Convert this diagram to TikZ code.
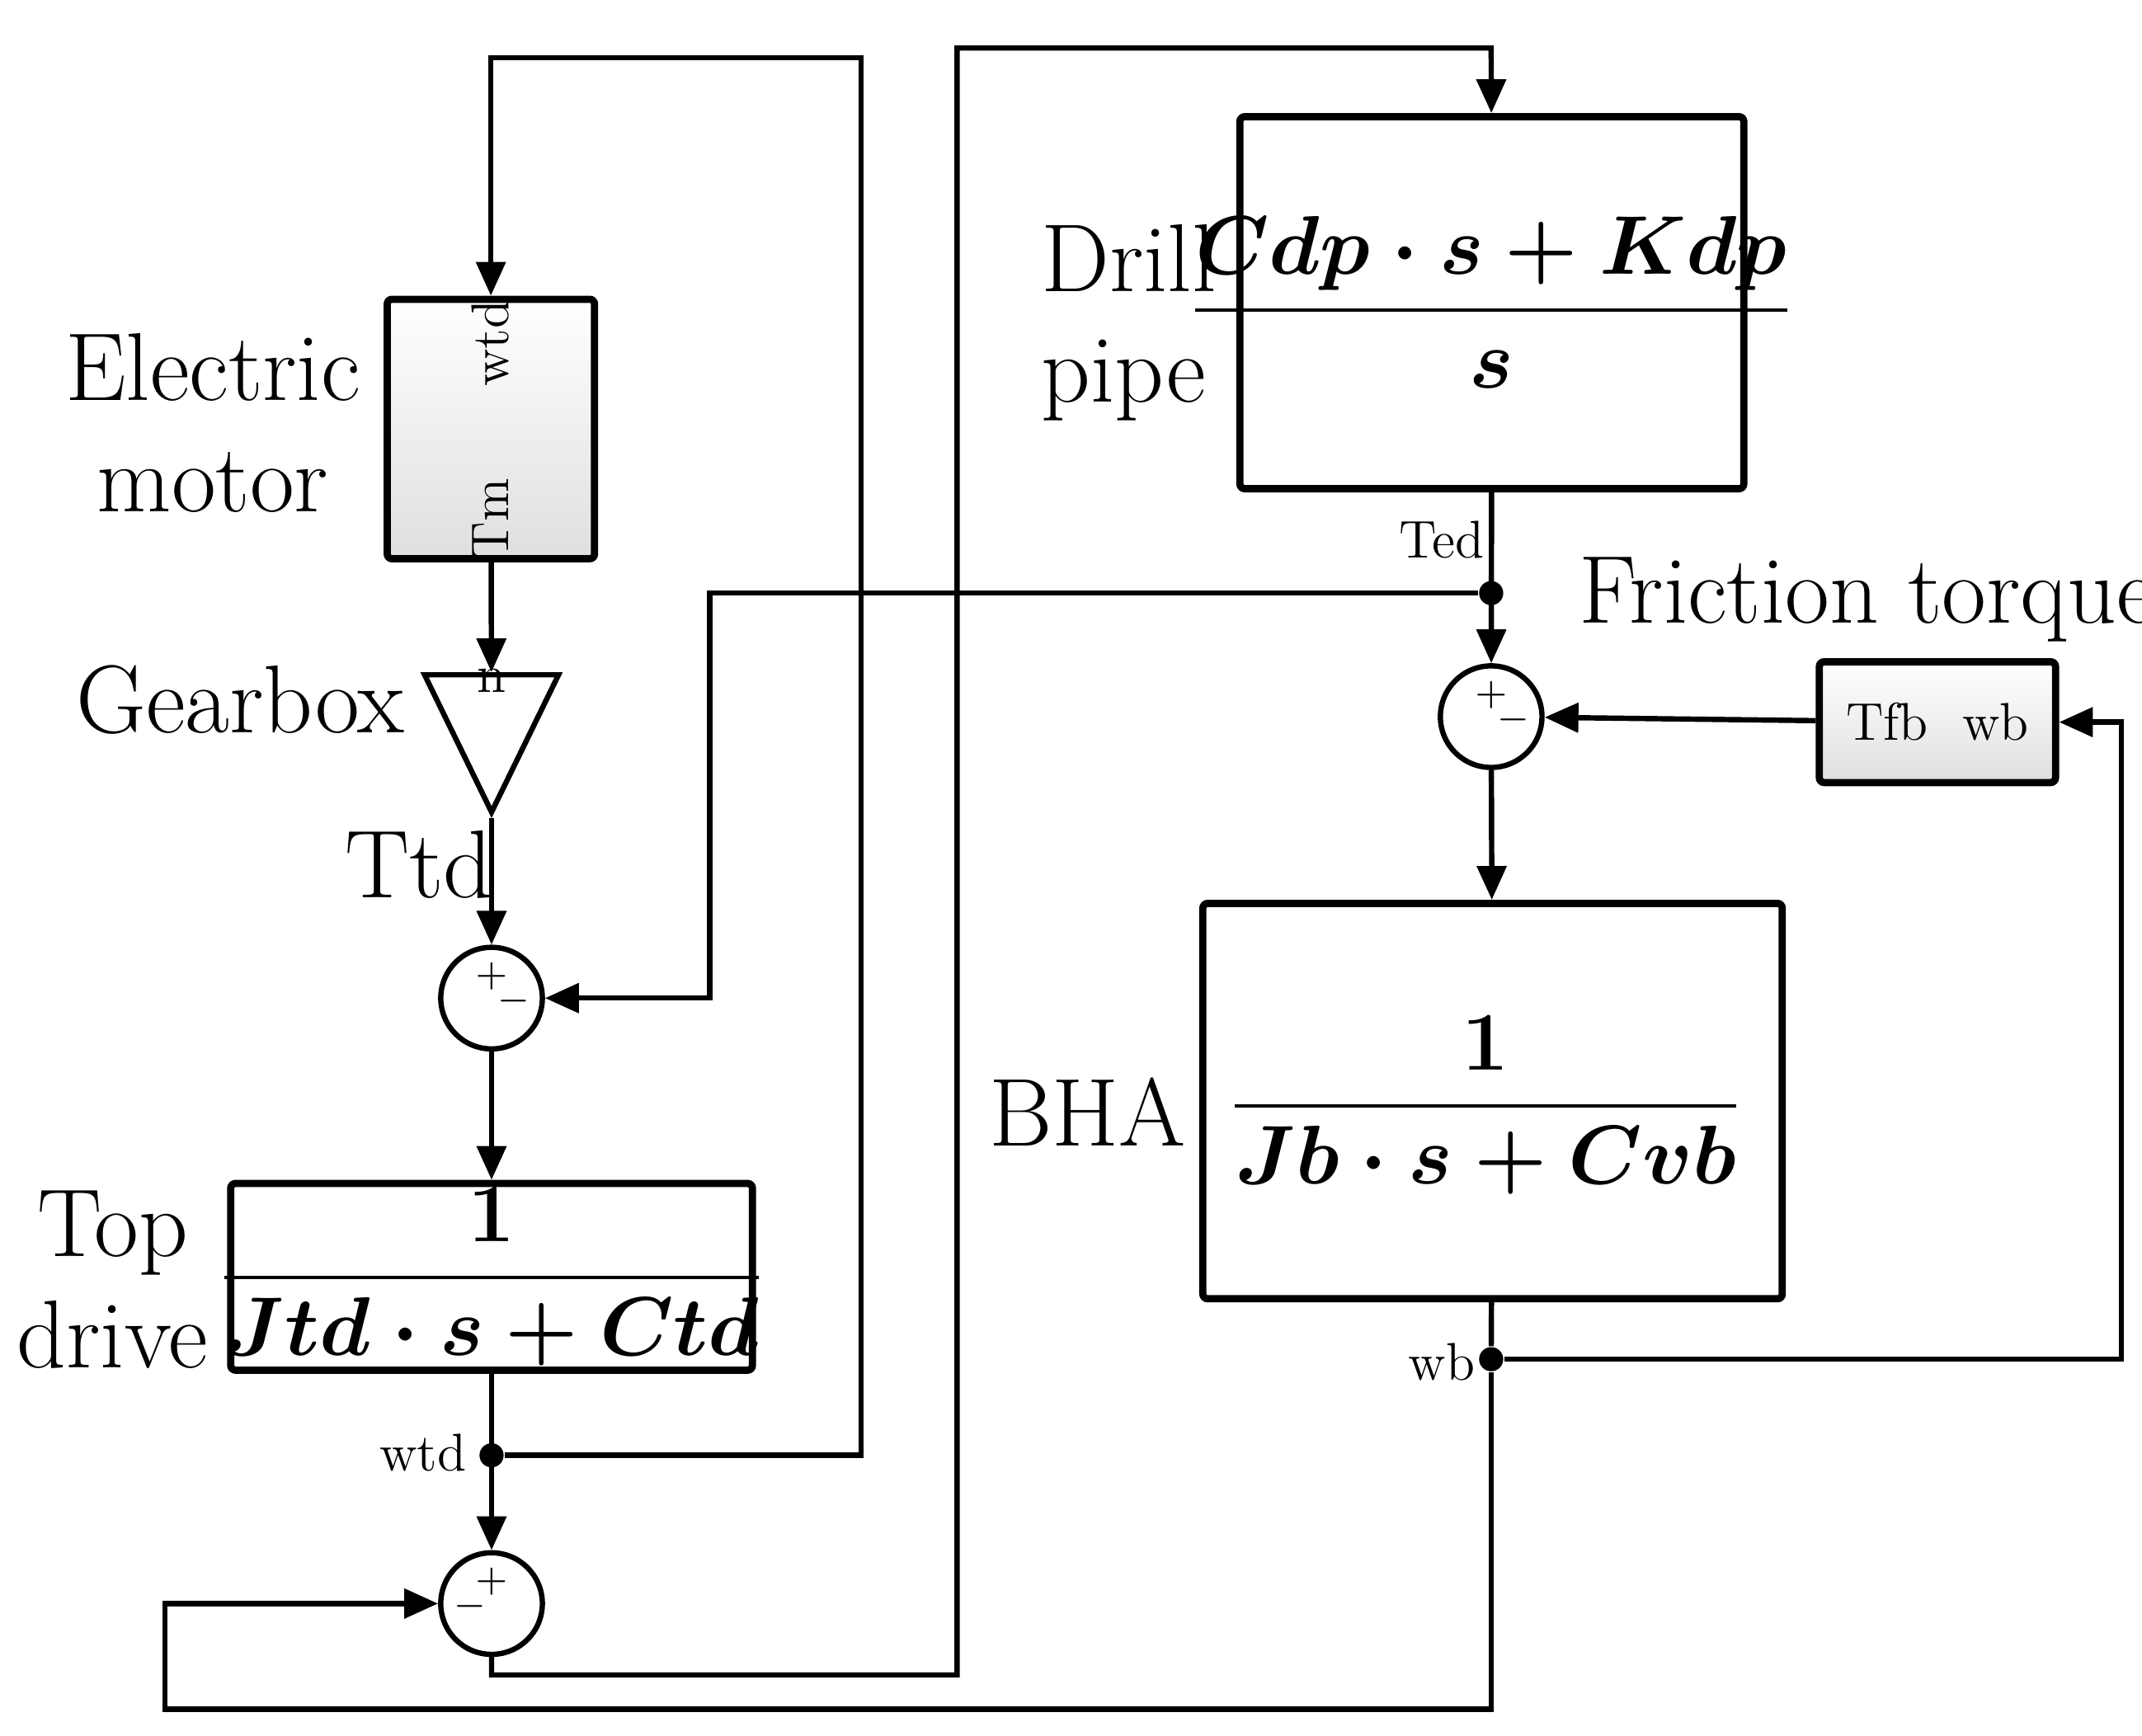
\documentclass[tikz,border=0pt]{standalone}
\usepackage{amsmath}
\usetikzlibrary{arrows.meta,shapes.geometric,calc}
\begin{document}
\begin{tikzpicture}[x=0.1mm,y=-0.1mm,
  sig/.style={
      line width=1.1pt,
      arrows = {-Triangle[length=7pt,width=6pt]}
    },
  wire/.style={
      line width=1.1pt
    },
  block/.style={
      draw,
      line width=1.5pt,
      rounded corners=1pt,
      inner sep=0pt
    },
  shade box/.style={
      block,
      top color=white,
      bottom color=gray!25
    },
  sum/.style={
      draw,
      circle,
      line width=1.1pt,
      minimum size=0.74cm,
      inner sep=0pt
    },
  dot/.style={
      circle,
      fill,
      inner sep=0pt,
      minimum size=5pt
    },
  title/.style={
      font=\fontsize{20}{23}\selectfont,
      align=left
    },
  port/.style={
      font=\fontsize{11}{12}\selectfont
    },
  frac/.style={
      font=\fontsize{16}{18}\selectfont\bfseries
    }]
  \useasboundingbox (0,0) rectangle (1560,1264);

  % blocks
  \node [shade box, minimum width=1.51cm, minimum height=1.89cm] (motor) at (357.5,312.5) {};
  \node [port, rotate=90] at (357,250) {wtd};
  \node [port, rotate=90] at (357,378) {Tm};
  \node [draw, line width=1.1pt, isosceles triangle, shape border rotate=-90,
         isosceles triangle apex angle=52, minimum height=1.0cm, inner sep=0pt] (gear) at (358,522) {};
  \node [port] at (358,496) {n};
  \node [sum] (sum1) at (358,727) {};
  \node [block, minimum width=3.8cm, minimum height=1.36cm] (top) at (358,930) {};
  \node [frac] at (358,930) {$\dfrac{\mathbf{1}}{\boldsymbol{Jtd\cdot s+Ctd}}$};
  \node [sum] (sum3) at (358,1168) {};
  \node [block, minimum width=3.67cm, minimum height=2.71cm] (pipe) at (1086.5,220.5) {};
  \node [frac] at (1086,220) {$\dfrac{\boldsymbol{Cdp\cdot s+Kdp}}{\boldsymbol{s}}$};
  \node [dot] (ted) at (1086,432) {};
  \node [sum] (sum2) at (1086,522) {};
  \node [shade box, minimum width=1.72cm, minimum height=0.88cm] (fric) at (1411,526) {};
  \node [port, anchor=west] at (1332,526) {Tfb};
  \node [port, anchor=east] at (1490,526) {wb};
  \node [block, minimum width=4.22cm, minimum height=2.88cm] (bha) at (1087,802) {};
  \node [frac] at (1082,805) {$\dfrac{\mathbf{1}}{\boldsymbol{Jb\cdot s+Cvb}}$};
  \node [dot] (wb) at (1086,990) {};
  \node [dot] (wtd) at (358,1060) {};

  % signs
  \foreach \s in {sum1,sum2,sum3} {
    \node [font=\footnotesize] at ($(\s)+(0,-16)$) {$+$};
  }
  \node [font=\footnotesize] at ($(sum1)+(16,2)$) {$-$};
  \node [font=\footnotesize] at ($(sum2)+(16,2)$) {$-$};
  \node [font=\footnotesize] at ($(sum3)+(-16,2)$) {$-$};

  % labels
  \node [title, align=center] at (155,308) {Electric\\motor};
  \node [title] at (175,510) {Gearbox};
  \node [title] at (305,630) {Ttd};
  \node [title, align=center] at (82,932) {Top\\drive};
  \node [port] at (308,1058) {wtd};
  \node [title] at (822,235) {Drill\\pipe};
  \node [port] at (1050,393) {Ted};
  \node [title] at (1360,437) {Friction torque};
  \node [title] at (792,810) {BHA};
  \node [port] at (1050,992) {wb};

  % connections
  \draw [sig] (motor) -- (gear);
  \draw [sig] (gear.apex) -- (sum1);
  \draw [sig] (sum1) -- (top);
  \draw [sig] (top) -- (sum3);
  \draw [sig] (wtd) -| (627,42) -| (motor);
  \draw [sig] (sum3.south) |- (697,1220) |- (1086,35) -- (pipe);
  \draw [sig] (pipe) -- (sum2);
  \draw [sig] (ted) -| (517,727) -- (sum1);
  \draw [sig] (sum2) -- (bha);
  \draw [sig] (fric) -- (sum2);
  \draw [sig] (wb) -| (1545,526) -- (fric);
  \draw [wire] (bha) -- (wb);
  \draw [sig] (wb) |- (120,1245) |- (sum3);
\end{tikzpicture}
\end{document}
